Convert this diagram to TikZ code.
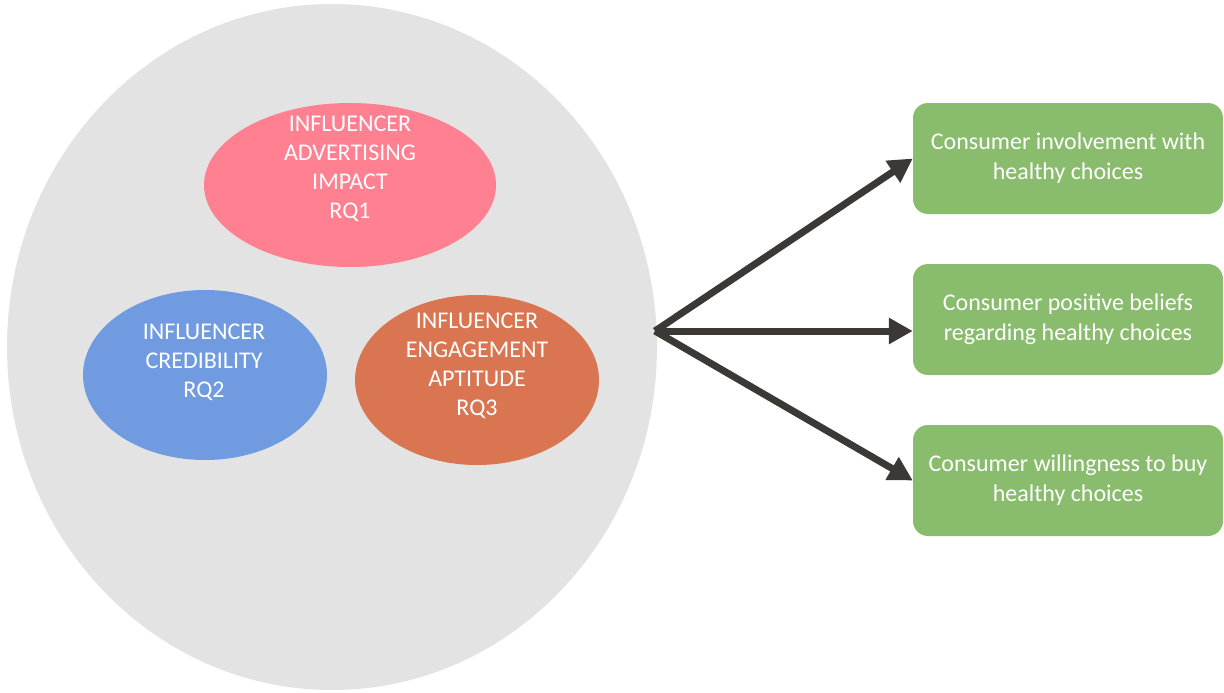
\documentclass[tikz,border=0pt]{standalone}
\usepackage{fontspec}
\setmainfont{Carlito}
\usetikzlibrary{shapes.geometric,arrows.meta}
\definecolor{bggrey}{RGB}{227,227,227}
\definecolor{pinkc}{RGB}{255,128,145}
\definecolor{bluec}{RGB}{112,155,224}
\definecolor{orangec}{RGB}{217,117,81}
\definecolor{greenc}{RGB}{137,188,109}
\definecolor{arrowc}{RGB}{59,56,54}
\tikzset{
  blob/.style={ellipse, inner sep=0pt, draw=none},
  etext/.style={text=white, align=center, font=\fontsize{24}{29}\selectfont, inner sep=0pt},
  outbox/.style={rectangle, rounded corners=15pt, fill=greenc, draw=none, text=white,
    minimum width=310pt, minimum height=111pt, align=center, inner sep=0pt,
    font=\fontsize{24}{30}\selectfont},
  conn/.style={draw=arrowc, line width=7pt, -{Triangle[length=24pt,width=25pt]}}
}
\begin{document}
\begin{tikzpicture}[x=1pt,y=-1pt]
\useasboundingbox (0,0) rectangle (1224,693);
\node[blob, fill=bggrey, minimum width=650pt, minimum height=686pt] (big) at (332,347) {};
\node[blob, fill=pinkc, minimum width=292pt, minimum height=164pt] (pink) at (350,185) {};
\node[blob, fill=bluec, minimum width=244pt, minimum height=170pt] (blue) at (205,375) {};
\node[blob, fill=orangec, minimum width=244pt, minimum height=170pt] (orange) at (477,380) {};
\node[etext] (t1) at (350,169) {INFLUENCER\\ADVERTISING\\IMPACT\\RQ1};
\node[etext] (t2) at (204,362) {INFLUENCER\\CREDIBILITY\\RQ2};
\node[etext] (t3) at (477,366) {INFLUENCER\\ENGAGEMENT\\APTITUDE\\RQ3};
\node[outbox] (b1) at (1068,158.5) {Consumer involvement with\\healthy choices};
\node[outbox] (b2) at (1068,319.5) {Consumer positive beliefs\\regarding healthy choices};
\node[outbox] (b3) at (1068,480.5) {Consumer willingness to buy\\healthy choices};
\coordinate (hub) at (655,331);
\draw[conn] (hub) -- (b1.west);
\draw[conn] (hub) -- (hub -| b2.west);
\draw[conn] (hub) -- (b3.west);
\end{tikzpicture}
\end{document}
